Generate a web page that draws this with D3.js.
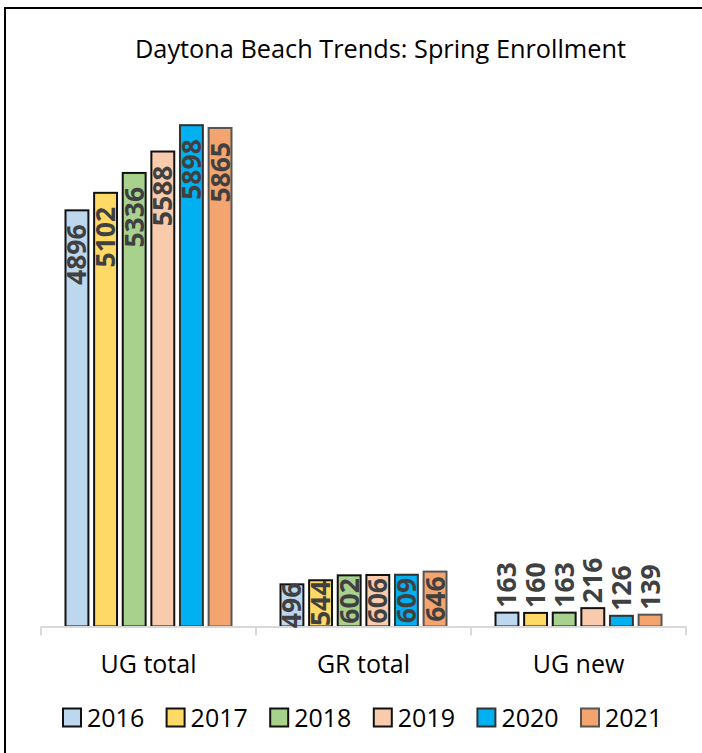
<!DOCTYPE html>
<html>
<head>
<meta charset="utf-8">
<script src="https://cdn.jsdelivr.net/npm/d3@7"></script>
<style>
  html, body { margin: 0; padding: 0; background: #fff; }
  svg { display: block; }
</style>
</head>
<body>
<svg id="chart" width="702" height="753"></svg>
<script>
// ---- Data ----
const title = "Daytona Beach Trends: Spring Enrollment";
const categories = ["UG total", "GR total", "UG new"];
const years = ["2016", "2017", "2018", "2019", "2020", "2021"];
const values2016 = [4896, 496, 163];
const values2017 = [5102, 544, 160];
const values2018 = [5336, 602, 163];
const values2019 = [5588, 606, 216];
const values2020 = [5898, 609, 126];
const values2021 = [5865, 646, 139];
const seriesValues = [values2016, values2017, values2018, values2019, values2020, values2021];
const fillColors = ["#BDD7EE", "#FFD966", "#A9D18E", "#F8CBAD", "#00B0F0", "#F4A46E"];
const strokeColors = ["#111111", "#111111", "#111111", "#111111", "#333333", "#555555"];
const yMax = 6000;

// ---- Layout ----
const svg = d3.select("#chart");
const plotLeft = 41, plotRight = 686, baseY = 626.5, topY = 116.5;

// frame (left/top visible, right/bottom cropped)
svg.append("rect")
  .attr("x", 5).attr("y", 8)
  .attr("width", 720).attr("height", 760)
  .attr("fill", "none").attr("stroke", "#000").attr("stroke-width", 2);

// title
svg.append("text")
  .attr("x", 380.5).attr("y", 58)
  .attr("text-anchor", "middle")
  .attr("font-family", "'Open Sans', sans-serif")
  .attr("font-size", 25.3)
  .attr("fill", "#000")
  .text(title);

const x0 = d3.scaleBand().domain(categories).range([plotLeft, plotRight]).padding(0);
const x1 = d3.scaleBand().domain(years).range([0, x0.bandwidth()])
  .paddingInner(0.2).paddingOuter(0.856);
const y = d3.scaleLinear().domain([0, yMax]).range([baseY, topY]);

// flatten data
const rows = [];
categories.forEach((c, ci) => {
  years.forEach((yr, si) => {
    rows.push({ cat: c, year: yr, si: si, value: seriesValues[si][ci] });
  });
});

// bars
svg.append("g").selectAll("rect")
  .data(rows).join("rect")
  .attr("x", d => x0(d.cat) + x1(d.year))
  .attr("y", d => y(d.value))
  .attr("width", x1.bandwidth())
  .attr("height", d => y(0) - y(d.value))
  .attr("fill", d => fillColors[d.si])
  .attr("stroke", d => strokeColors[d.si])
  .attr("stroke-width", 2);

// x axis
const axisG = svg.append("g");
axisG.append("line")
  .attr("x1", plotLeft).attr("x2", plotRight)
  .attr("y1", baseY + 0.5).attr("y2", baseY + 0.5)
  .attr("stroke", "#D9D9D9").attr("stroke-width", 2);
const tickXs = categories.map(c => x0(c)).concat([x0(categories[categories.length - 1]) + x0.bandwidth()]);
axisG.selectAll("line.tick").data(tickXs).join("line")
  .attr("class", "tick")
  .attr("x1", d => d).attr("x2", d => d)
  .attr("y1", baseY).attr("y2", baseY + 9)
  .attr("stroke", "#D9D9D9").attr("stroke-width", 2);
axisG.selectAll("text").data(categories).join("text")
  .attr("x", d => x0(d) + x0.bandwidth() / 2)
  .attr("y", 673)
  .attr("text-anchor", "middle")
  .attr("font-family", "'Open Sans', sans-serif")
  .attr("font-size", 25)
  .attr("fill", "#000")
  .text(d => d);

// data labels (rotated)
const labelG = svg.append("g");
rows.forEach(d => {
  const cx = x0(d.cat) + x1(d.year) + x1.bandwidth() / 2;
  const top = y(d.value), barH = y(0) - y(d.value);
  const t = labelG.append("text")
    .attr("font-family", "'Open Sans', sans-serif")
    .attr("font-weight", "bold")
    .attr("font-size", 26.5)
    .attr("fill", "#404040")
    .attr("dy", "0.36em")
    .text(d.value);
  const len = t.node().getComputedTextLength();
  let ly, anchor;
  if (barH >= len + 20) { ly = top + 14; anchor = "end"; }
  else if (barH >= len * 0.75) { ly = top + barH / 2; anchor = "middle"; }
  else { ly = top - 5; anchor = "start"; }
  t.attr("text-anchor", anchor)
   .attr("transform", `translate(${cx},${ly}) rotate(-90)`);
});

// legend
const legend = svg.append("g");
const legendStartX = 63, legendPitch = 103.6, legendY = 718;
years.forEach((yr, i) => {
  const lx = legendStartX + i * legendPitch;
  legend.append("rect")
    .attr("x", lx).attr("y", legendY - 9.5)
    .attr("width", 18).attr("height", 18)
    .attr("fill", fillColors[i])
    .attr("stroke", strokeColors[i]).attr("stroke-width", 2);
  legend.append("text")
    .attr("x", lx + 24).attr("y", legendY + 9)
    .attr("font-family", "'Open Sans', sans-serif")
    .attr("font-size", 25)
    .attr("fill", "#000")
    .text(yr);
});
</script>
</body>
</html>
